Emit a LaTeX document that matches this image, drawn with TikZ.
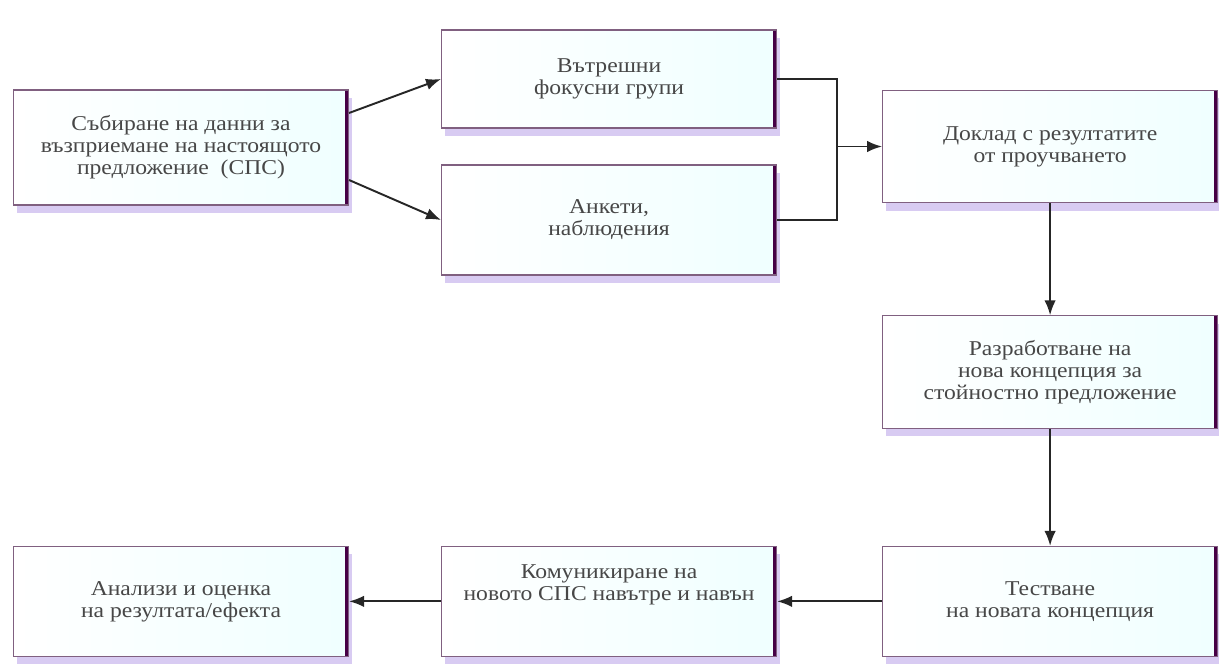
\documentclass[tikz,border=0pt]{standalone}
\usepackage{fontspec}
\setmainfont{Liberation Serif}[FakeStretch=1.12]
\usetikzlibrary{positioning,shadows,arrows.meta}

\begin{document}
\begin{tikzpicture}[
  node distance = 1cm,
  box/.style = {draw=violet!25!gray, line width=0.6pt,
    left color=white, right color=cyan!6, text=black!72,
    align=center, minimum width=6.7cm, minimum height=2.25cm,
    font=\fontsize{12}{12.5}\selectfont,
    drop shadow={shadow xshift=2pt, shadow yshift=-4.5pt, fill=violet!50!blue!45, opacity=0.45},
    path picture={\draw[line width=4.5pt, violet!55!black]
      (path picture bounding box.north east) -- (path picture bounding box.south east);}},
  line/.style = {line width=1.1pt, black!85},
  arr/.style = {line, -{Latex[length=3mm,width=2.3mm]}}
]
  \useasboundingbox (0,0) rectangle (24.38,-13.28);

  \node[box, minimum height=2.3cm] (sbor) at (3.62,-2.95)
    {Събиране на данни за\\възприемане на настоящото\\предложение \ (СПС)};
  \node[box, minimum height=1.96cm, right=1.84cm of sbor, yshift=1.37cm] (vatr)
    {Вътрешни\\фокусни групи};
  \node[box, minimum height=2.2cm, right=1.84cm of sbor, yshift=-1.45cm] (anketi)
    {Анкети,\\наблюдения};
  \node[box, right=2.1cm of vatr, yshift=-1.35cm] (doklad)
    {Доклад с резултатите\\от проучването};
  \node[box, below=2.24cm of doklad] (razrab)
    {Разработване на\\нова концепция за\\стойностно предложение};
  \node[box, minimum height=2.2cm, below=2.34cm of razrab] (test)
    {Тестване\\на новата концепция};
  \node[box, minimum height=2.2cm, left=2.1cm of test] (komun)
    {Комуникиране на\\новото СПС навътре и навън\\[3mm]};
  \node[box, minimum height=2.2cm, left=1.84cm of komun] (analiz)
    {Анализи и оценка\\на резултата/ефекта};

  \coordinate (merge) at ([xshift=-0.9cm]doklad.west);

  \draw[arr] ([yshift=6.9mm]sbor.east) -- (vatr.west);
  \draw[arr] ([yshift=-6.5mm]sbor.east) -- (anketi.west);
  \draw[line] (vatr.east) -| (merge);
  \draw[line] (anketi.east) -| (merge);
  \draw[arr] (merge) -- (doklad.west);
  \draw[arr] (doklad) -- (razrab);
  \draw[arr] (razrab) -- (test);
  \draw[arr] (test) -- (komun);
  \draw[arr] (komun) -- (analiz);
\end{tikzpicture}
\end{document}
